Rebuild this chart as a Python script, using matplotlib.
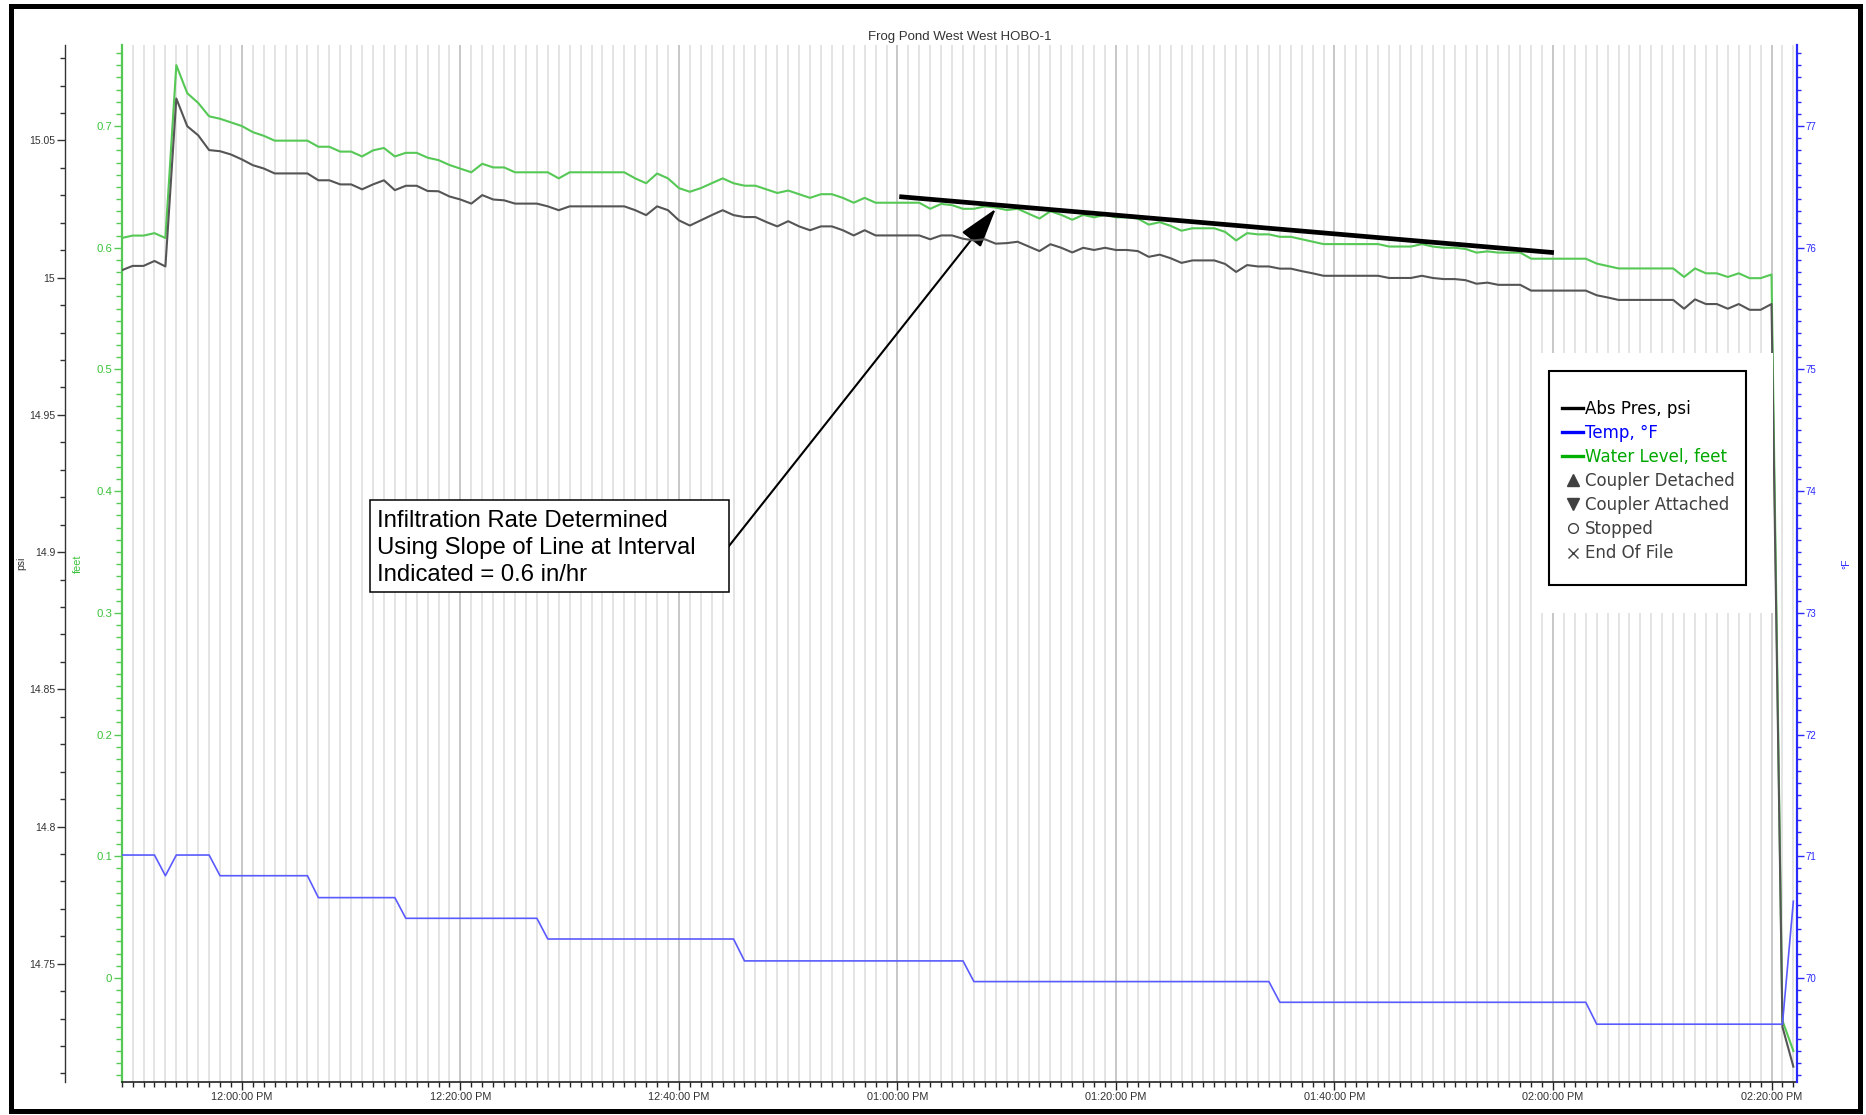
import matplotlib
matplotlib.use("Agg")
import matplotlib.pyplot as plt
import matplotlib.dates as mdates
from matplotlib.lines import Line2D
from matplotlib.patches import Rectangle
from matplotlib.ticker import MultipleLocator, FormatStrFormatter
import pandas as pd

plt.rcParams["font.family"] = ["Liberation Sans", "DejaVu Sans"]

# ---------------------------------------------------------------- data
title = "Frog Pond West West HOBO-1"
start_time = "2000-01-01 11:49:00"
end_time = "2000-01-01 14:22:20"

level_ft = [
    0.608, 0.610, 0.610, 0.612, 0.608, 0.750, 0.727, 0.719, 0.708, 0.706,
    0.703, 0.700, 0.695, 0.692, 0.688, 0.688, 0.688, 0.688, 0.683, 0.683,
    0.679, 0.679, 0.675, 0.680, 0.682, 0.675, 0.678, 0.678, 0.674, 0.672,
    0.668, 0.665, 0.662, 0.669, 0.666, 0.666, 0.662, 0.662, 0.662, 0.662,
    0.657, 0.662, 0.662, 0.662, 0.662, 0.662, 0.662, 0.657, 0.653, 0.661,
    0.657, 0.649, 0.646, 0.649, 0.653, 0.657, 0.653, 0.651, 0.651, 0.648,
    0.645, 0.647, 0.644, 0.641, 0.644, 0.644, 0.641, 0.637, 0.641, 0.637,
    0.637, 0.637, 0.637, 0.637, 0.632, 0.636, 0.635, 0.632, 0.632, 0.634,
    0.633, 0.631, 0.632, 0.628, 0.624, 0.630, 0.627, 0.623, 0.627, 0.625,
    0.627, 0.625, 0.625, 0.624, 0.619, 0.621, 0.618, 0.614, 0.616, 0.616,
    0.616, 0.613, 0.606, 0.612, 0.611, 0.611, 0.609, 0.609, 0.607, 0.605,
    0.603, 0.603, 0.603, 0.603, 0.603, 0.603, 0.601, 0.601, 0.601, 0.603,
    0.601, 0.600, 0.600, 0.599, 0.596, 0.597, 0.596, 0.596, 0.596, 0.591,
    0.591, 0.591, 0.591, 0.591, 0.591, 0.587, 0.585, 0.583, 0.583, 0.583,
    0.583, 0.583, 0.583, 0.576, 0.583, 0.579, 0.579, 0.576, 0.579, 0.575,
    0.575, 0.578, -0.035, -0.060,
]

pressure_psi = [
    15.0027, 15.0043, 15.0043, 15.0061, 15.0041, 15.0653, 15.0552, 15.0519, 15.0465, 15.0461,
    15.0449, 15.0431, 15.0410, 15.0398, 15.0380, 15.0380, 15.0380, 15.0380, 15.0355, 15.0355,
    15.0340, 15.0340, 15.0322, 15.0340, 15.0355, 15.0319, 15.0335, 15.0335, 15.0316, 15.0315,
    15.0296, 15.0285, 15.0270, 15.0301, 15.0285, 15.0282, 15.0270, 15.0270, 15.0270, 15.0260,
    15.0246, 15.0260, 15.0260, 15.0260, 15.0260, 15.0260, 15.0260, 15.0246, 15.0228, 15.0260,
    15.0246, 15.0209, 15.0190, 15.0209, 15.0228, 15.0246, 15.0228, 15.0221, 15.0221, 15.0203,
    15.0187, 15.0206, 15.0187, 15.0173, 15.0187, 15.0187, 15.0173, 15.0154, 15.0173, 15.0154,
    15.0154, 15.0154, 15.0154, 15.0154, 15.0140, 15.0154, 15.0154, 15.0142, 15.0136, 15.0140,
    15.0124, 15.0126, 15.0131, 15.0114, 15.0097, 15.0122, 15.0109, 15.0092, 15.0109, 15.0101,
    15.0109, 15.0101, 15.0101, 15.0097, 15.0076, 15.0084, 15.0071, 15.0054, 15.0063, 15.0063,
    15.0063, 15.0050, 15.0021, 15.0046, 15.0041, 15.0041, 15.0033, 15.0033, 15.0024, 15.0016,
    15.0007, 15.0007, 15.0007, 15.0007, 15.0007, 15.0007, 14.9999, 14.9999, 14.9999, 15.0007,
    14.9999, 14.9995, 14.9995, 14.9991, 14.9978, 14.9982, 14.9974, 14.9974, 14.9974, 14.9953,
    14.9953, 14.9953, 14.9953, 14.9953, 14.9953, 14.9936, 14.9928, 14.9919, 14.9919, 14.9919,
    14.9919, 14.9919, 14.9919, 14.9887, 14.9921, 14.9904, 14.9904, 14.9887, 14.9904, 14.9883,
    14.9883, 14.9904, 14.7270, 14.7125,
]

temp_f = [
    71.01, 71.01, 71.01, 71.01, 70.84, 71.01, 71.01, 71.01, 71.01, 70.84,
    70.84, 70.84, 70.84, 70.84, 70.84, 70.84, 70.84, 70.84, 70.66, 70.66,
    70.66, 70.66, 70.66, 70.66, 70.66, 70.66, 70.49, 70.49, 70.49, 70.49,
    70.49, 70.49, 70.49, 70.49, 70.49, 70.49, 70.49, 70.49, 70.49, 70.32,
    70.32, 70.32, 70.32, 70.32, 70.32, 70.32, 70.32, 70.32, 70.32, 70.32,
    70.32, 70.32, 70.32, 70.32, 70.32, 70.32, 70.32, 70.14, 70.14, 70.14,
    70.14, 70.14, 70.14, 70.14, 70.14, 70.14, 70.14, 70.14, 70.14, 70.14,
    70.14, 70.14, 70.14, 70.14, 70.14, 70.14, 70.14, 70.14, 69.97, 69.97,
    69.97, 69.97, 69.97, 69.97, 69.97, 69.97, 69.97, 69.97, 69.97, 69.97,
    69.97, 69.97, 69.97, 69.97, 69.97, 69.97, 69.97, 69.97, 69.97, 69.97,
    69.97, 69.97, 69.97, 69.97, 69.97, 69.97, 69.80, 69.80, 69.80, 69.80,
    69.80, 69.80, 69.80, 69.80, 69.80, 69.80, 69.80, 69.80, 69.80, 69.80,
    69.80, 69.80, 69.80, 69.80, 69.80, 69.80, 69.80, 69.80, 69.80, 69.80,
    69.80, 69.80, 69.80, 69.80, 69.80, 69.62, 69.62, 69.62, 69.62, 69.62,
    69.62, 69.62, 69.62, 69.62, 69.62, 69.62, 69.62, 69.62, 69.62, 69.62,
    69.62, 69.62, 69.62, 70.63,
]

# fitted infiltration line and the callout pointing at it
trend_times = ["2000-01-01 13:00:10", "2000-01-01 14:00:05"]
trend_level_ft = [0.642, 0.596]
arrow_tail = ("2000-01-01 12:44:30", 0.354)
arrow_tip = ("2000-01-01 13:09:00", 0.632)
callout_text = ("Infiltration Rate Determined\n"
                "Using Slope of Line at Interval\n"
                "Indicated = 0.6 in/hr")

legend_labels = ["Abs Pres, psi", "Temp, \u00b0F", "Water Level, feet",
                 "Coupler Detached", "Coupler Attached", "Stopped", "End Of File"]

times = pd.date_range(start_time, periods=len(level_ft), freq="min")

# ---------------------------------------------------------------- styling
GREEN = "#55c855"
GREEN_TXT = "#3cc23c"
GRAY = "#555555"
BLUE = "#5a5aff"
BLUE_AX = "#2a2aff"

W, H = 1866, 1115
fig = plt.figure(figsize=(W / 100, H / 100), dpi=100)
fig.patch.set_facecolor("white")


def fx(px):
    return px / W


def fy(py):
    return 1 - py / H


AX_L, AX_R, AX_T, AX_B = 121.7, 1797.0, 45.0, 1082.0
ax = fig.add_axes([fx(AX_L), fy(AX_B), (AX_R - AX_L) / W, (AX_B - AX_T) / H])
ax_psi = ax.twinx()
ax_t = ax.twinx()

# ---------------------------------------------------------------- feet axis (host)
ax.plot(times, level_ft, color=GREEN, lw=1.5, zorder=2)
ax.set_xlim(pd.Timestamp(start_time), pd.Timestamp(end_time))
ax.set_ylim(-0.0855, 0.7666)
ax.yaxis.set_major_locator(MultipleLocator(0.1))
ax.yaxis.set_minor_locator(MultipleLocator(0.01))
ax.yaxis.set_major_formatter(FormatStrFormatter("%g"))
ax.tick_params(axis="y", which="major", colors=GREEN, labelcolor=GREEN_TXT,
               length=6, width=1, labelsize=8.2, pad=1)
ax.tick_params(axis="y", which="minor", colors=GREEN, length=4, width=1)
for s in ("top", "right"):
    ax.spines[s].set_visible(False)
ax.spines["left"].set_color(GREEN)
ax.spines["left"].set_linewidth(1.6)
ax.spines["bottom"].set_color("#222222")
ax.spines["bottom"].set_linewidth(1.2)

ax.xaxis.set_major_locator(mdates.MinuteLocator(byminute=[0, 20, 40]))
ax.xaxis.set_minor_locator(mdates.MinuteLocator())
ax.xaxis.set_major_formatter(mdates.DateFormatter("%I:%M:%S %p"))
ax.tick_params(axis="x", which="major", length=6, width=1, colors="#222222",
               labelcolor="#303030", labelsize=7.8, pad=1.5)
ax.tick_params(axis="x", which="minor", length=3.5, width=1, colors="#222222")
ax.grid(True, which="minor", axis="x", color="#dcdcdc", lw=1.1)
ax.grid(True, which="major", axis="x", color="#b8b8b8", lw=1.1)
ax.set_axisbelow(True)

ax.set_ylabel("feet", color=GREEN_TXT, fontsize=7.8)
ax.yaxis.set_label_coords((83 - AX_L) / (AX_R - AX_L), 0.5)

# ---------------------------------------------------------------- psi axis (outer left)
ax_psi.plot(times, pressure_psi, color=GRAY, lw=1.5, zorder=2)
ax_psi.set_ylim(14.7069, 15.0848)
ax_psi.spines["left"].set_position(("axes", (65 - AX_L) / (AX_R - AX_L)))
ax_psi.spines["left"].set_visible(True)
ax_psi.spines["left"].set_color("#333333")
ax_psi.spines["left"].set_linewidth(1.0)
for s in ("right", "top", "bottom"):
    ax_psi.spines[s].set_visible(False)
ax_psi.yaxis.set_ticks_position("left")
ax_psi.yaxis.set_label_position("left")
ax_psi.yaxis.set_major_locator(MultipleLocator(0.05))
ax_psi.yaxis.set_minor_locator(MultipleLocator(0.01))
ax_psi.yaxis.set_major_formatter(FormatStrFormatter("%g"))
ax_psi.tick_params(axis="y", which="major", colors="#333333", length=6, width=1,
                   labelsize=7.5, pad=1)
ax_psi.tick_params(axis="y", which="minor", colors="#333333", length=3.5, width=1)
ax_psi.set_ylabel("psi", color="#333333", fontsize=7.5)
ax_psi.yaxis.set_label_coords((26 - AX_L) / (AX_R - AX_L), 0.5)

# ---------------------------------------------------------------- temperature axis (right)
ax_t.plot(times, temp_f, color=BLUE, lw=1.2, zorder=2)
ax_t.set_ylim(69.145, 77.666)
for s in ("left", "top", "bottom"):
    ax_t.spines[s].set_visible(False)
ax_t.spines["right"].set_color(BLUE_AX)
ax_t.spines["right"].set_linewidth(1.6)
ax_t.yaxis.set_major_locator(MultipleLocator(1))
ax_t.yaxis.set_minor_locator(MultipleLocator(0.1))
ax_t.yaxis.set_major_formatter(FormatStrFormatter("%g"))
ax_t.tick_params(axis="y", which="major", colors=BLUE_AX, length=5, width=1,
                 labelsize=7.0, pad=1)
ax_t.tick_params(axis="y", which="minor", colors=BLUE_AX, length=3, width=1)
ax_t.set_ylabel("\u00b0F", color=BLUE_AX, fontsize=7.5, rotation=90)
ax_t.yaxis.set_label_coords((1841 - AX_L) / (AX_R - AX_L), 0.5)

# ---------------------------------------------------------------- trend line and callout
ax.plot(pd.to_datetime(trend_times), trend_level_ft, color="black", lw=3.4,
        solid_capstyle="butt", zorder=3)
ax.annotate("", xy=(pd.Timestamp(arrow_tip[0]), arrow_tip[1]),
            xytext=(pd.Timestamp(arrow_tail[0]), arrow_tail[1]),
            arrowprops=dict(arrowstyle="-|>,head_length=1.25,head_width=0.38",
                            mutation_scale=20, color="black", lw=1.5,
                            shrinkA=0, shrinkB=0),
            zorder=3)

fig.add_artist(Rectangle((fx(370), fy(592)), (729 - 370) / W, (592 - 500) / H,
                         transform=fig.transFigure, facecolor="white",
                         edgecolor="black", lw=1.1, zorder=1))
fig.text(fx(377), fy(510.5), callout_text, ha="left", va="top", fontsize=17.2,
         linespacing=1.29, color="black", zorder=3,
         family=["Liberation Sans", "DejaVu Sans"])

# ---------------------------------------------------------------- legend
fig.add_artist(Rectangle((fx(1535), fy(613)), (1773 - 1535) / W, (613 - 353) / H,
                         transform=fig.transFigure, facecolor="white",
                         edgecolor="none", zorder=1))
fig.add_artist(Rectangle((fx(1549), fy(585)), (1746 - 1549) / W, (585 - 371) / H,
                         transform=fig.transFigure, facecolor="none",
                         edgecolor="black", lw=1.5, zorder=2))
handles = [
    Line2D([], [], color="black", lw=2.4),
    Line2D([], [], color="#0000ff", lw=2.4),
    Line2D([], [], color="#00b000", lw=2.4),
    Line2D([], [], ls="none", marker="^", color="#404040", ms=8),
    Line2D([], [], ls="none", marker="v", color="#404040", ms=8),
    Line2D([], [], ls="none", marker="o", mfc="none", mec="#404040", mew=1, ms=7),
    Line2D([], [], ls="none", marker="x", color="#404040", mew=1, ms=7),
]
leg = fig.legend(handles, legend_labels, loc="upper left",
                 bbox_to_anchor=(fx(1562), fy(399.5)), bbox_transform=fig.transFigure,
                 frameon=False, borderpad=0, borderaxespad=0,
                 handlelength=1.26, handletextpad=0.12, labelspacing=0.37,
                 prop={"family": "DejaVu Sans", "size": 12})
leg.set_zorder(4)
for txt, col in zip(leg.get_texts(),
                    ["black", "#0000ff", "#00a800", "#404040", "#404040",
                     "#404040", "#404040"]):
    txt.set_color(col)

# ---------------------------------------------------------------- title and frame
fig.text(fx((AX_L + AX_R) / 2), fy(37), title, ha="center", va="center",
         fontsize=9.5, color="#333333")
fig.add_artist(Rectangle((fx(10.5), fy(1110.5)), (1859.5 - 10.5) / W,
                         (1110.5 - 5.5) / H, transform=fig.transFigure,
                         facecolor="none", edgecolor="black", lw=3.6, zorder=5))

fig.savefig("out.png", dpi=100, facecolor="white")
